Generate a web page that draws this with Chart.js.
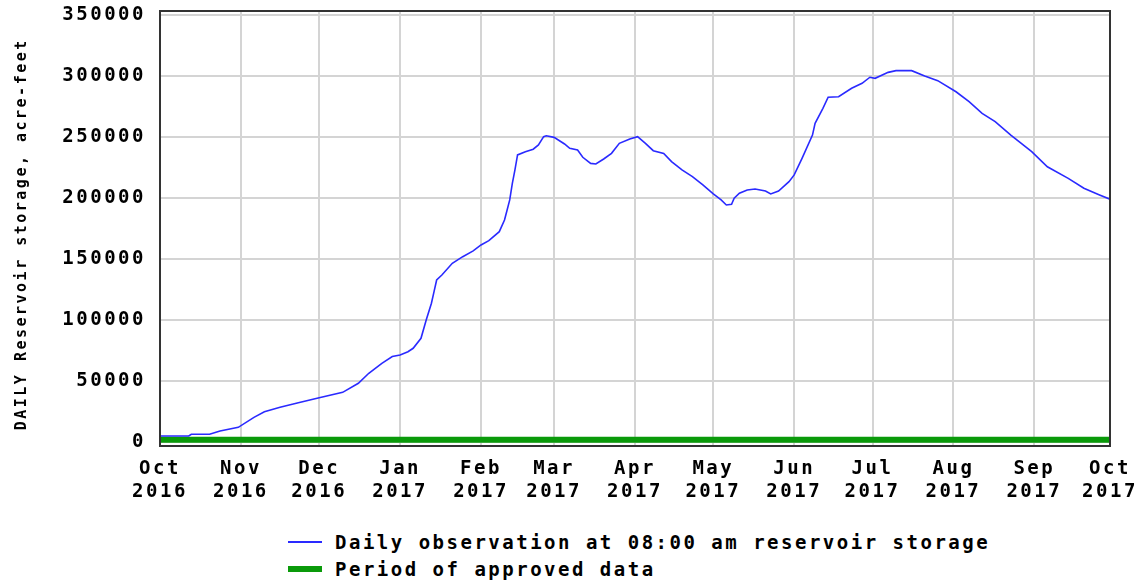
<!DOCTYPE html>
<html>
<head>
<meta charset="utf-8">
<script src="https://cdn.jsdelivr.net/npm/chart.js@4.4.0/dist/chart.umd.min.js"></script>
<style>
  body { margin: 0; background: #fff; }
  #wrap { position: relative; width: 1138px; height: 582px; }
  #grafica { position: absolute; left: 0; top: 0; }
  .leyenda { position: absolute; left: 288px; font: bold 19px 'DejaVu Sans Mono', monospace; letter-spacing: 2.5px; color: #000; }
  .leyenda span.muestra { position: absolute; left: 0; width: 34px; }
  .leyenda span.texto { position: absolute; left: 47px; white-space: nowrap; line-height: 22px; }
</style>
</head>
<body>
<div id="wrap">
  <canvas id="grafica" width="1138" height="520"></canvas>
  <div class="leyenda" style="top:531px">
    <span class="muestra" style="top:10px;height:2px;background:#2a2aff"></span>
    <span class="texto">Daily observation at 08:00 am reservoir storage</span>
  </div>
  <div class="leyenda" style="top:558px">
    <span class="muestra" style="top:8px;height:6px;background:#0a9a0a"></span>
    <span class="texto">Period of approved data</span>
  </div>
</div>
<script>
// dias desde 1 oct 2016
let diasObs = [0, 11, 12, 19, 23, 30, 36, 40, 46, 53, 61, 70, 76, 80, 85, 89, 92, 95, 97, 100,
    102, 104, 105, 106, 108, 112, 116, 120, 123, 126, 130, 132, 133, 134, 135, 136, 137, 140, 143, 145,
    147, 148, 151, 155, 157, 160, 162, 165, 167, 170, 173, 176, 180, 183, 186, 189, 193, 196, 200, 204,
    208, 212, 215, 217, 219, 220, 222, 225, 228, 232, 234, 237, 241, 243, 246, 250, 251, 254, 256, 260,
    265, 269, 272, 274, 279, 282, 288, 293, 298, 305, 310, 315, 320, 326, 334, 340, 348, 354, 360, 364];

let almacenamiento = [4900, 4900, 6300, 6300, 9000, 12000, 20200, 24800, 28400, 32200, 36300, 40700, 48100, 56300, 64500, 70000, 71300, 74000, 76800, 85000,
    100000, 113700, 123200, 132800, 136900, 146500, 151900, 156600, 161500, 165000, 172400, 182000, 190200, 198400, 212000, 223000, 235300, 238000, 240000, 243500,
    250300, 251000, 249700, 244300, 240700, 239300, 233400, 228400, 227900, 232000, 236600, 244800, 248400, 250300, 244800, 238800, 236600, 229800, 223000, 217500,
    210700, 203300, 198400, 194300, 194800, 199800, 203900, 206600, 207400, 205700, 203300, 205700, 213400, 218900, 232500, 251600, 261200, 273500, 282600, 283000,
    290000, 294000, 299000, 298100, 303000, 304400, 304400, 300000, 296200, 287100, 279000, 269400, 262600, 251600, 238000, 225600, 216100, 208000, 202500, 199000];

let diasAprobados = [0, 364];
let nivelAprobado = [1800, 1800];

let diasMeses = [0, 31, 61, 92, 123, 151, 182, 212, 243, 273, 304, 335, 364];
let etiquetasMeses = [["Oct", "2016"], ["Nov", "2016"], ["Dec", "2016"], ["Jan", "2017"], ["Feb", "2017"], ["Mar", "2017"],
    ["Apr", "2017"], ["May", "2017"], ["Jun", "2017"], ["Jul", "2017"], ["Aug", "2017"], ["Sep", "2017"], ["Oct", "2017"]];
let ticksY = [0, 50000, 100000, 150000, 200000, 250000, 300000, 350000];

const fuente = "'DejaVu Sans Mono', monospace";
const sep = "2.5px";

// espaciado de letras en el canvas
const espaciado = {
    id: "espaciado",
    beforeUpdate(c) { c.ctx.letterSpacing = sep; },
    beforeLayout(c) { c.ctx.letterSpacing = sep; },
    beforeDraw(c) { c.ctx.letterSpacing = sep; }
};

// marco alrededor del area
const marco = {
    id: "marco",
    afterDatasetsDraw(c) {
        let a = c.chartArea;
        let ctx = c.ctx;
        ctx.save();
        ctx.strokeStyle = "#333";
        ctx.lineWidth = 2;
        ctx.strokeRect(a.left, a.top, a.right - a.left, a.bottom - a.top);
        ctx.restore();
    }
};

new Chart(document.getElementById("grafica").getContext("2d"), {
    type: "line",
    data: {
        datasets: [{
            label: "Daily observation at 08:00 am reservoir storage",
            data: diasObs.map((d, i) => ({ x: d, y: almacenamiento[i] })),
            borderColor: "#2a2aff",
            borderWidth: 1.6,
            pointRadius: 0,
            tension: 0
        }, {
            label: "Period of approved data",
            data: diasAprobados.map((d, i) => ({ x: d, y: nivelAprobado[i] })),
            borderColor: "#0a9a0a",
            borderWidth: 6,
            borderCapStyle: "butt",
            pointRadius: 0
        }]
    },
    options: {
        responsive: false,
        animation: false,
        devicePixelRatio: 1,
        layout: { padding: { top: 11, right: 28, left: 0, bottom: 0 } },
        plugins: { legend: { display: false }, tooltip: { enabled: false } },
        scales: {
            x: {
                type: "linear",
                min: 0,
                max: 364,
                afterBuildTicks: ax => { ax.ticks = diasMeses.map(v => ({ value: v })); },
                afterFit: ax => { ax.height = 74; ax.paddingLeft = 0; ax.paddingRight = 0; },
                grid: { color: "#d4d4d4", lineWidth: 2, drawTicks: false },
                border: { display: false },
                ticks: {
                    autoSkip: false,
                    maxRotation: 0,
                    padding: 12,
                    color: "#000",
                    font: { family: fuente, size: 19, weight: "bold" },
                    callback: v => etiquetasMeses[diasMeses.indexOf(v)]
                }
            },
            y: {
                min: -3300,
                max: 353300,
                afterBuildTicks: ax => { ax.ticks = ticksY.map(v => ({ value: v })); },
                afterFit: ax => { ax.width = 160; ax.paddingTop = 0; ax.paddingBottom = 0; },
                grid: { color: "#d4d4d4", lineWidth: 2, drawTicks: false },
                border: { display: false },
                ticks: {
                    padding: 14,
                    color: "#000",
                    font: { family: fuente, size: 19, weight: "bold" },
                    callback: v => String(v)
                },
                title: {
                    display: true,
                    text: "DAILY Reservoir storage, acre-feet ",
                    color: "#000",
                    font: { family: fuente, size: 15, weight: "bold" },
                    padding: { top: 13, bottom: 0 }
                }
            }
        }
    },
    plugins: [espaciado, marco]
});
</script>
</body>
</html>
